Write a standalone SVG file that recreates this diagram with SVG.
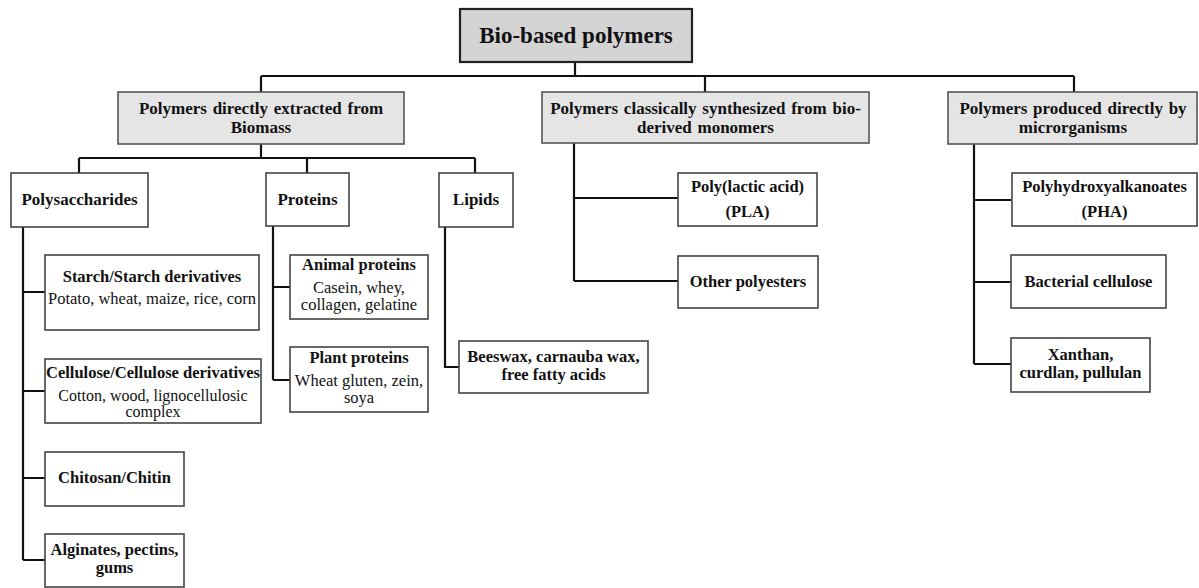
<svg xmlns="http://www.w3.org/2000/svg" width="1199" height="588" viewBox="0 0 1199 588">
<style>
text{font-family:"Liberation Serif","Times New Roman",serif;fill:#111;text-anchor:middle}
.h0{font-size:23px;font-weight:bold}
.h1{font-size:17px;font-weight:bold;word-spacing:1.5px}
.s{font-size:16.5px;font-weight:bold}
.r{font-size:16.5px}
.t{font-size:16px}
.root{fill:#d4d4d4;stroke:#222;stroke-width:2.2}
.cat{fill:#e5e5e5;stroke:#555;stroke-width:1.6}
.box{fill:#fff;stroke:#444;stroke-width:1.6}
#connectors path{fill:none;stroke:#111;stroke-width:2.2}
</style>
<rect width="1199" height="588" fill="#fff"/>
<g id="connectors">
<path d="M575,62V76M261,76H1074M261,76V92M705,76V92M1074,76V92"/>
<path d="M261,144V158M79,158H475M79,158V173M307,158V173M475,158V173"/>
<path d="M23,227V560M23,292H45M23,391H45M23,478H45M23,560H45"/>
<path d="M273,226V380M273,287H290M273,380H290"/>
<path d="M445,227V367H459"/>
<path d="M574,143V281M574,198H678M574,281H678"/>
<path d="M974,144V364M974,200H1011M974,282H1011M974,364H1011"/>
</g>
<g id="root"><rect class="root" x="460" y="9" width="232" height="53"/><text class="h0" x="576" y="43">Bio-based polymers</text></g>
<g id="extracted"><rect class="cat" x="118" y="92" width="286" height="52"/><text class="h1" x="261" y="114">Polymers directly extracted from</text><text class="h1" x="261" y="133">Biomass</text></g>
<g id="synthesized"><rect class="cat" x="542" y="92" width="327" height="51"/><text class="h1" x="705.5" y="114">Polymers classically synthesized from bio-</text><text class="h1" x="705.5" y="133">derived monomers</text></g>
<g id="microorganisms"><rect class="cat" x="948" y="92" width="249" height="52"/><text class="h1" x="1073" y="114">Polymers produced directly by</text><text class="h1" x="1073" y="133">microrganisms</text></g>
<g id="polysaccharides"><rect class="box" x="11" y="173" width="137" height="54"/><text class="h1" x="79.5" y="205">Polysaccharides</text></g>
<g id="proteins"><rect class="box" x="266" y="173" width="83" height="53"/><text class="h1" x="307.5" y="205">Proteins</text></g>
<g id="lipids"><rect class="box" x="439" y="173" width="74" height="54"/><text class="h1" x="476" y="205">Lipids</text></g>
<g id="starch"><rect class="box" x="45" y="255" width="214" height="75"/><text class="s" x="152" y="282">Starch/Starch derivatives</text><text class="r" x="152" y="304">Potato, wheat, maize, rice, corn</text></g>
<g id="cellulose"><rect class="box" x="45" y="359" width="216" height="64"/><text class="s" x="153" y="378">Cellulose/Cellulose derivatives</text><text class="t" x="153" y="401">Cotton, wood, lignocellulosic</text><text class="t" x="153" y="417">complex</text></g>
<g id="chitosan"><rect class="box" x="45" y="452" width="139" height="54"/><text class="s" x="114.5" y="483">Chitosan/Chitin</text></g>
<g id="alginates"><rect class="box" x="45" y="534" width="139" height="53"/><text class="s" x="114.5" y="555" font-size="16">Alginates, pectins,</text><text class="s" x="114.5" y="573" font-size="16">gums</text></g>
<g id="animal"><rect class="box" x="290" y="255" width="138" height="64"/><text class="s" x="359" y="270">Animal proteins</text><text class="r" x="359" y="293">Casein, whey,</text><text class="r" x="359" y="310">collagen, gelatine</text></g>
<g id="plant"><rect class="box" x="290" y="347" width="138" height="65"/><text class="s" x="359" y="363">Plant proteins</text><text class="r" x="359" y="386">Wheat gluten, zein,</text><text class="r" x="359" y="403">soya</text></g>
<g id="beeswax"><rect class="box" x="459" y="341" width="189" height="52"/><text class="s" x="553.5" y="362" font-size="16">Beeswax, carnauba wax,</text><text class="s" x="553.5" y="380" font-size="16">free fatty acids</text></g>
<g id="pla"><rect class="box" x="678" y="173" width="139" height="53"/><text class="s" x="747.5" y="192">Poly(lactic acid)</text><text class="s" x="747.5" y="217">(PLA)</text></g>
<g id="polyesters"><rect class="box" x="678" y="256" width="140" height="52"/><text class="s" x="748" y="287">Other polyesters</text></g>
<g id="pha"><rect class="box" x="1012" y="173" width="185" height="53"/><text class="s" x="1104.5" y="192">Polyhydroxyalkanoates</text><text class="s" x="1104.5" y="217">(PHA)</text></g>
<g id="bacterial"><rect class="box" x="1011" y="255" width="155" height="53"/><text class="s" x="1088.5" y="287">Bacterial cellulose</text></g>
<g id="xanthan"><rect class="box" x="1011" y="338" width="139" height="54"/><text class="s" x="1080.5" y="360">Xanthan,</text><text class="s" x="1080.5" y="378">curdlan, pullulan</text></g>
</svg>
